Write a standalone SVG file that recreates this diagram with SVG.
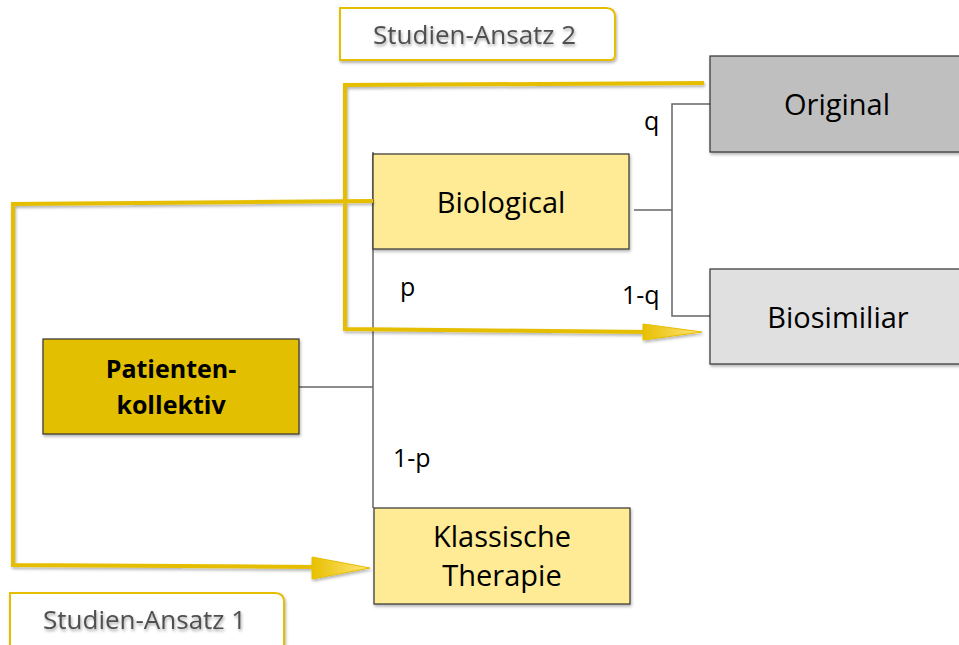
<svg xmlns="http://www.w3.org/2000/svg" width="959" height="645" viewBox="0 0 959 645">
<defs>
<filter id="sh" x="-10%" y="-30%" width="120%" height="160%">
<feDropShadow dx="1" dy="2" stdDeviation="1.5" flood-color="#000" flood-opacity="0.3"/>
</filter>
<filter id="tsh" x="-10%" y="-30%" width="120%" height="160%">
<feDropShadow dx="1" dy="2" stdDeviation="1.5" flood-color="#000" flood-opacity="0.35"/>
</filter>
<linearGradient id="ag" x1="0" y1="0" x2="1" y2="0">
<stop offset="0" stop-color="#E8C000"/>
<stop offset="1" stop-color="#FFE680"/>
</linearGradient>
</defs>
<style>
.t{font-family:"Open Sans","Noto Sans","Liberation Sans",sans-serif;fill:#000}
.box{stroke:#333;stroke-width:1.2}
.tree{fill:none;stroke:#666;stroke-width:1.5}
.gold{fill:none;stroke:#E6BE00;stroke-width:4;stroke-linejoin:miter}
.lbl{font-family:"Open Sans","Noto Sans","Liberation Sans",sans-serif;fill:#505050;font-size:26px}
.sa{fill:#fff;stroke:#E6BE00;stroke-width:2}
</style>
<rect width="959" height="645" fill="#fff"/>

<g id="connectors">
<path class="tree" d="M373,152 V508"/>
<path class="tree" d="M299,387 H373"/>
<path class="tree" d="M634,210 H672"/>
<path class="tree" d="M710,104 H672 V316 H710"/>
</g>

<g id="node-biological">
<rect class="box" x="373" y="154" width="256" height="95" fill="#FFEB95" filter="url(#sh)"/>
<text class="t" x="501" y="213" font-size="29" text-anchor="middle">Biological</text>
</g>
<g id="node-klassische">
<rect class="box" x="374" y="508" width="256" height="96" fill="#FFEB95" filter="url(#sh)"/>
<text class="t" x="502" y="547" font-size="29" text-anchor="middle">Klassische</text>
<text class="t" x="502" y="586" font-size="29" text-anchor="middle">Therapie</text>
</g>
<g id="node-patienten">
<rect class="box" x="43" y="339" width="256" height="95" fill="#E2BF00" filter="url(#sh)"/>
<text class="t" x="171" y="378" font-size="25" font-weight="bold" text-anchor="middle">Patienten-</text>
<text class="t" x="171" y="414" font-size="25" font-weight="bold" text-anchor="middle">kollektiv</text>
</g>
<g id="node-original">
<rect class="box" x="710" y="56" width="252" height="96" fill="#BFBFBF" filter="url(#sh)"/>
<text class="t" x="837" y="115" font-size="29" text-anchor="middle">Original</text>
</g>
<g id="node-biosimiliar">
<rect class="box" x="710" y="269" width="252" height="95" fill="#E0E0E0" filter="url(#sh)"/>
<text class="t" x="838" y="328" font-size="29" text-anchor="middle">Biosimiliar</text>
</g>

<g id="labels">
<text class="t" x="644" y="130" font-size="25">q</text>
<text class="t" x="400" y="296" font-size="25">p</text>
<text class="t" x="622" y="304" font-size="25">1-q</text>
<text class="t" x="393" y="467" font-size="25">1-p</text>
</g>

<g id="study-paths" filter="url(#sh)">
<path class="gold" d="M373,201 L13,204 L13,565 L320,567"/>
<polygon points="312,557 370,568 312,579" fill="url(#ag)" stroke="#E6BE00" stroke-width="1"/>
<path class="gold" d="M704,83 L345,85 L345,329 L650,332"/>
<polygon points="643,324 702,332 643,340" fill="url(#ag)" stroke="#E6BE00" stroke-width="1"/>
</g>

<g id="studien-ansatz-2">
<path class="sa" d="M340,8 H606 Q615,8 615,17 V55 Q615,60 610,60 H340 Z" filter="url(#sh)"/>
<text class="lbl" x="373" y="44" filter="url(#tsh)">Studien-Ansatz 2</text>
</g>
<g id="studien-ansatz-1">
<path class="sa" d="M10,593 H275 Q284,593 284,602 V650 H10 Z" filter="url(#sh)"/>
<text class="lbl" x="43" y="629" filter="url(#tsh)">Studien-Ansatz 1</text>
</g>
</svg>
